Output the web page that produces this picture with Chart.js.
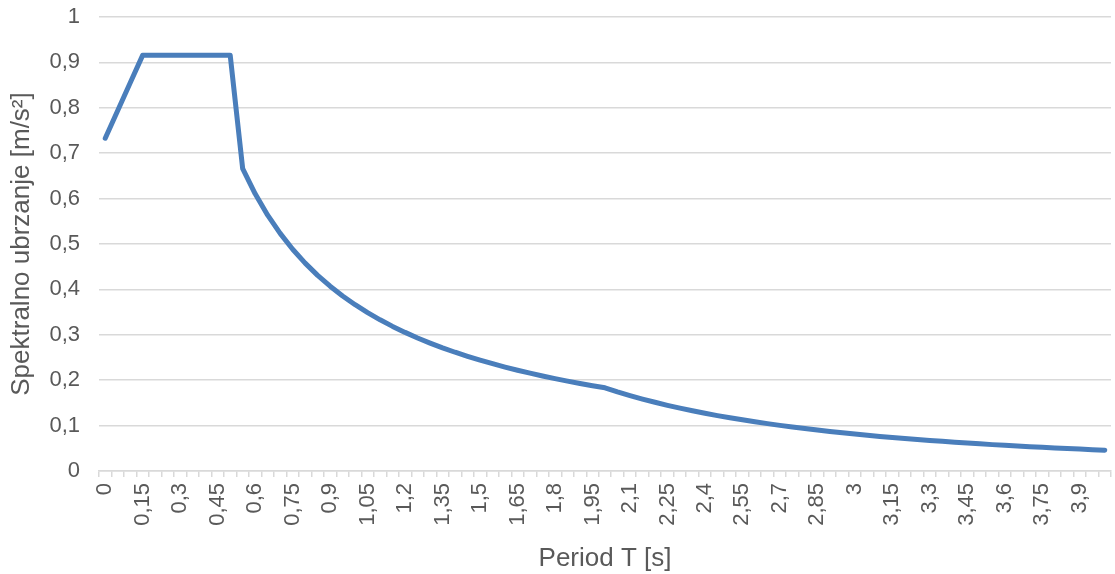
<!DOCTYPE html>
<html>
<head>
<meta charset="utf-8">
<script src="https://cdn.jsdelivr.net/npm/chart.js@4.4.1/dist/chart.umd.min.js"></script>
<style>
  html, body { margin: 0; padding: 0; background: #fff; }
  #wrap { width: 1115px; height: 574px; }
</style>
</head>
<body>
<div id="wrap"><canvas id="spectrumChart"></canvas></div>
<script>
const periods = [
  0, 0.05, 0.1, 0.15, 0.2, 0.25, 0.3, 0.35, 0.4, 0.45,
  0.5, 0.55, 0.6, 0.65, 0.7, 0.75, 0.8, 0.85, 0.9, 0.95,
  1, 1.05, 1.1, 1.15, 1.2, 1.25, 1.3, 1.35, 1.4, 1.45,
  1.5, 1.55, 1.6, 1.65, 1.7, 1.75, 1.8, 1.85, 1.9, 1.95,
  2, 2.05, 2.1, 2.15, 2.2, 2.25, 2.3, 2.35, 2.4, 2.45,
  2.5, 2.55, 2.6, 2.65, 2.7, 2.75, 2.8, 2.85, 2.9, 2.95,
  3, 3.05, 3.1, 3.15, 3.2, 3.25, 3.3, 3.35, 3.4, 3.45,
  3.5, 3.55, 3.6, 3.65, 3.7, 3.75, 3.8, 3.85, 3.9, 3.95,
  4
];

const spectralAcc = [
  0.733, 0.794, 0.855, 0.916, 0.916, 0.916, 0.916, 0.916, 0.916, 0.916,
  0.916, 0.666, 0.6105, 0.5635, 0.5233, 0.4884, 0.4579, 0.4309, 0.407, 0.3856,
  0.3663, 0.3489, 0.333, 0.3185, 0.3053, 0.293, 0.2818, 0.2713, 0.2616, 0.2526,
  0.2442, 0.2363, 0.2289, 0.222, 0.2155, 0.2093, 0.2035, 0.198, 0.1928, 0.1878,
  0.1832, 0.1743, 0.1661, 0.1585, 0.1514, 0.1447, 0.1385, 0.1327, 0.1272, 0.122,
  0.1172, 0.1127, 0.1084, 0.1043, 0.1005, 0.0969, 0.0934, 0.0902, 0.0871, 0.0842,
  0.0814, 0.0788, 0.0762, 0.0738, 0.0715, 0.0694, 0.0673, 0.0653, 0.0634, 0.0615,
  0.0598, 0.0581, 0.0565, 0.055, 0.0535, 0.0521, 0.0507, 0.0494, 0.0482, 0.047,
  0.0458
];

const LABEL_EVERY = 3;
const FONT = "'Liberation Sans', Arial, sans-serif";
const TEXT_COLOR = "#595959";
const GRID_COLOR = "#d9d9d9";

function fmt(v) {
  return String(v).replace(".", ",");
}

const ctx = document.getElementById("spectrumChart");

new Chart(ctx, {
  type: "line",
  data: {
    labels: periods.map(fmt),
    datasets: [
      {
        label: "Sa",
        data: spectralAcc,
        borderColor: "#4a7ebb",
        borderWidth: 5,
        pointRadius: 0,
        tension: 0,
        fill: false,
        borderCapStyle: "round",
        borderJoinStyle: "round",
      },
    ],
  },
  options: {
    responsive: true,
    maintainAspectRatio: false,
    animation: false,
    layout: {
      padding: { top: 17, right: 4, left: 6, bottom: 0 },
    },
    plugins: {
      legend: { display: false },
      tooltip: { enabled: false },
    },
    scales: {
      x: {
        type: "category",
        offset: true,
        border: { display: true, color: GRID_COLOR, width: 1.5 },
        grid: {
          offset: true,
          drawOnChartArea: false,
          drawTicks: true,
          tickLength: 6,
          color: GRID_COLOR,
          lineWidth: 1.5,
        },
        ticks: {
          autoSkip: false,
          maxRotation: 90,
          minRotation: 90,
          padding: 6,
          color: TEXT_COLOR,
          font: { family: FONT, size: 22 },
          callback: function (value, index) {
            return index % LABEL_EVERY === 0 ? this.getLabelForValue(value) : "";
          },
        },
        title: {
          display: true,
          text: "Period T [s]",
          color: TEXT_COLOR,
          font: { family: FONT, size: 26 },
          padding: { top: 0, bottom: 0 },
        },
        afterFit: function (scale) {
          scale.height = 103;
          scale.paddingLeft = 0;
          scale.paddingRight = 0;
          scale.paddingTop = 0;
          scale.paddingBottom = 0;
        },
      },
      y: {
        min: 0,
        max: 1,
        border: { display: false },
        grid: {
          color: GRID_COLOR,
          lineWidth: 1.5,
          drawTicks: false,
        },
        ticks: {
          stepSize: 0.1,
          padding: 19,
          color: TEXT_COLOR,
          font: { family: FONT, size: 22 },
          callback: function (value) {
            return fmt(Math.round(value * 10) / 10);
          },
        },
        title: {
          display: true,
          text: "Spektralno ubrzanje [m/s²]",
          color: TEXT_COLOR,
          font: { family: FONT, size: 26 },
          padding: { top: 0, bottom: 0 },
        },
        afterFit: function (scale) {
          scale.width = 93;
          scale.paddingTop = 0;
          scale.paddingBottom = 0;
        },
      },
    },
  },
});
</script>
</body>
</html>
